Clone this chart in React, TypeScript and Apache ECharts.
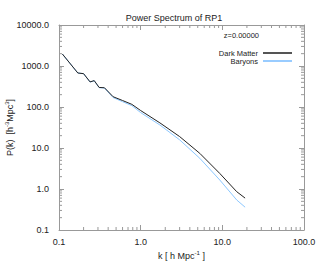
import React, { useEffect, useRef } from "react";
import * as echarts from "echarts";

const kValues = [0.11, 0.17, 0.2, 0.24, 0.27, 0.31, 0.36, 0.46, 0.6, 0.78, 1.0, 1.72, 3.0, 5.3, 9.3, 15, 19];
const darkMatter = [1960, 675, 650, 410, 440, 300, 295, 178, 144, 116, 82, 41, 19, 7.4, 2.4, 0.86, 0.6];
const baryons = [1960, 675, 650, 405, 435, 296, 290, 170, 135, 108, 73, 36.4, 15.8, 5.6, 1.66, 0.54, 0.36];

const xRange = [0.1, 100];
const yRange = [0.1, 10000];
const xMinor = [0.2, 0.3, 0.4, 0.5, 0.6, 0.7, 0.8, 0.9, 2, 3, 4, 5, 6, 7, 8, 9, 20, 30, 40, 50, 60, 70, 80, 90];
const yMinor = [
  0.2, 0.3, 0.4, 0.5, 0.6, 0.7, 0.8, 0.9,
  2, 3, 4, 5, 6, 7, 8, 9,
  20, 30, 40, 50, 60, 70, 80, 90,
  200, 300, 400, 500, 600, 700, 800, 900,
  2000, 3000, 4000, 5000, 6000, 7000, 8000, 9000,
];

const FONT = "Liberation Sans, Arial, sans-serif";
const AXIS_GREY = "#999999";
const TEXT = "#222";
const MINOR_LEN = 3;

function fmt(v: number) {
  return Number(v).toFixed(1);
}

export default function App() {
  const ref = useRef<HTMLDivElement>(null);
  useEffect(() => {
    if (!ref.current) return;
    const chart = echarts.init(ref.current, undefined, { renderer: "svg" });

    const richSup = {
      s: { fontSize: 6, verticalAlign: "top", color: TEXT, fontFamily: FONT, padding: [0, 0, 6, 0] },
    };

    const logAxisBase = (range: number[], pos: string, labels: boolean) => ({
      type: "log",
      logBase: 10,
      min: range[0],
      max: range[1],
      position: pos,
      axisLine: { show: true, onZero: false, lineStyle: { color: AXIS_GREY, width: 1 } },
      axisTick: { show: true, inside: true, length: 5, lineStyle: { color: AXIS_GREY, width: 1 } },
      axisLabel: labels
        ? { show: true, formatter: fmt, color: TEXT, fontSize: 9, fontFamily: FONT }
        : { show: false },
      splitLine: { show: false },
      minorTick: { show: false },
    });

    const tickStyle = { stroke: AXIS_GREY, lineWidth: 1, fill: null };

    const xTickData = xMinor.map((v) => [v, yRange[0]]);
    const yTickData = yMinor.map((v) => [xRange[0], v]);

    chart.setOption({
      animation: false,
      backgroundColor: "#fff",
      title: {
        text: "Power Spectrum of RP1",
        left: 174,
        textAlign: "center",
        top: 13,
        padding: 0,
        textStyle: { fontSize: 9, fontWeight: "normal", color: TEXT, fontFamily: FONT },
      },
      grid: { left: 59, right: 15, top: 25, bottom: 36, outerBoundsMode: "none", containLabel: false },
      legend: {
        orient: "vertical",
        right: 27,
        top: 49,
        padding: 0,
        align: "right",
        itemWidth: 29,
        itemHeight: 2,
        itemGap: 0,
        icon: "rect",
        textStyle: { fontSize: 7.5, color: TEXT, fontFamily: FONT, lineHeight: 6.6 },
        data: [
          { name: "Dark Matter", itemStyle: { color: "#555" } },
          { name: "Baryons", itemStyle: { color: "#99ccff" } },
        ],
      },
      graphic: [
        {
          type: "text",
          right: 60,
          top: 31,
          style: { text: "z=0.00000", fontSize: 7.5, fill: TEXT, fontFamily: FONT },
        },
      ],
      xAxis: [
        {
          ...logAxisBase(xRange, "bottom", true),
          axisLabel: { show: true, formatter: fmt, color: TEXT, fontSize: 9, fontFamily: FONT, margin: 7 },
          name: "k [ h Mpc{s|-1} ]",
          nameLocation: "middle",
          nameGap: 20,
          nameMoveOverlap: false,
          nameTextStyle: { fontSize: 9, color: TEXT, fontFamily: FONT, rich: richSup },
        },
        logAxisBase(xRange, "top", false),
      ],
      yAxis: [
        {
          ...logAxisBase(yRange, "left", true),
          axisLabel: { show: true, formatter: fmt, color: TEXT, fontSize: 9, fontFamily: FONT, margin: 10 },
          name: "P(k)  [h{s|-3}Mpc{s|3}]",
          nameLocation: "middle",
          nameGap: 43,
          nameRotate: 90,
          nameMoveOverlap: false,
          nameTextStyle: { fontSize: 9, color: TEXT, fontFamily: FONT, rich: richSup },
        },
        logAxisBase(yRange, "right", false),
      ],
      series: [
        {
          name: "Dark Matter",
          type: "line",
          xAxisIndex: 0,
          yAxisIndex: 0,
          data: kValues.map((k, i) => [k, darkMatter[i]]),
          showSymbol: false,
          symbol: "none",
          lineStyle: { color: "#222", width: 1 },
          itemStyle: { color: "#555" },
          z: 3,
        },
        {
          name: "Baryons",
          type: "line",
          xAxisIndex: 0,
          yAxisIndex: 0,
          data: kValues.map((k, i) => [k, baryons[i]]),
          showSymbol: false,
          symbol: "none",
          lineStyle: { color: "#8cc8ff", width: 1 },
          itemStyle: { color: "#99ccff" },
          z: 2,
        },
        {
          name: "xMinorTicks",
          type: "custom",
          coordinateSystem: "cartesian2d",
          xAxisIndex: 0,
          yAxisIndex: 0,
          clip: false,
          silent: true,
          encode: { x: 0, y: 1 },
          data: xTickData,
          renderItem: (params: any, api: any) => {
            const v = api.value(0);
            const b = api.coord([v, yRange[0]]);
            const t = api.coord([v, yRange[1]]);
            return {
              type: "group",
              children: [
                { type: "line", shape: { x1: b[0], y1: b[1], x2: b[0], y2: b[1] - MINOR_LEN }, style: tickStyle },
                { type: "line", shape: { x1: t[0], y1: t[1], x2: t[0], y2: t[1] + MINOR_LEN }, style: tickStyle },
              ],
            };
          },
          z: 5,
        },
        {
          name: "yMinorTicks",
          type: "custom",
          coordinateSystem: "cartesian2d",
          xAxisIndex: 0,
          yAxisIndex: 0,
          clip: false,
          silent: true,
          encode: { x: 0, y: 1 },
          data: yTickData,
          renderItem: (params: any, api: any) => {
            const v = api.value(1);
            const l = api.coord([xRange[0], v]);
            const r = api.coord([xRange[1], v]);
            return {
              type: "group",
              children: [
                { type: "line", shape: { x1: l[0], y1: l[1], x2: l[0] + MINOR_LEN, y2: l[1] }, style: tickStyle },
                { type: "line", shape: { x1: r[0], y1: r[1], x2: r[0] - MINOR_LEN, y2: r[1] }, style: tickStyle },
              ],
            };
          },
          z: 5,
        },
      ],
    });
    return () => chart.dispose();
  }, []);
  return <div ref={ref} style={{ width: 319, height: 266, position: "absolute", left: 0, top: 0 }} />;
}
